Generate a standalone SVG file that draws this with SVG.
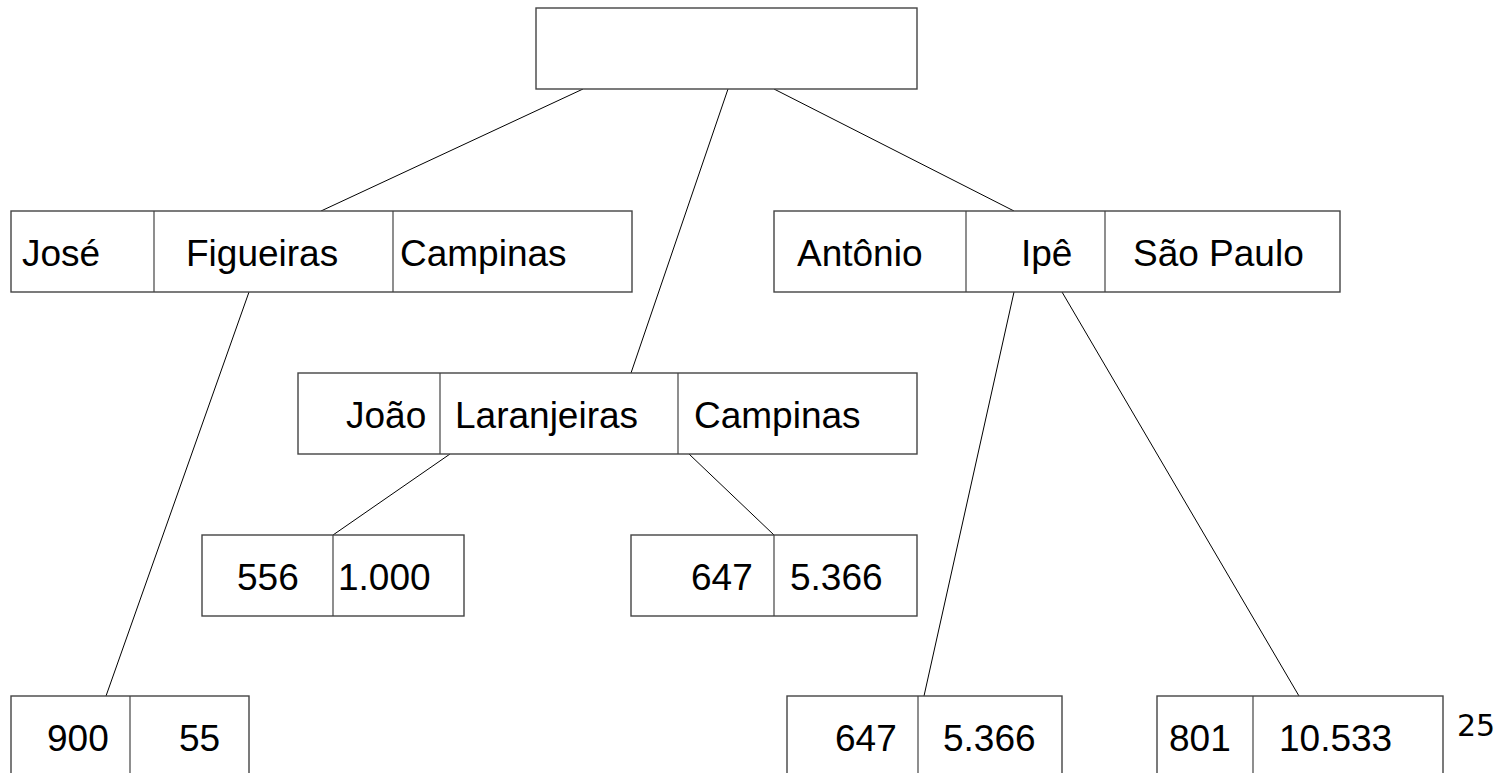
<svg xmlns="http://www.w3.org/2000/svg" width="1507" height="773" viewBox="0 0 1507 773">
<style>
.b{fill:#fff;stroke:#444;stroke-width:1.4}
.d{stroke:#444;stroke-width:1.2}
.c line{stroke:#000;stroke-width:1}
text{font-family:"Liberation Sans",Arial,sans-serif;font-size:37px;fill:#000}
.n{font-family:"DejaVu Sans",sans-serif;font-size:30px}
</style>
<rect width="1507" height="773" fill="#fff"/>
<g class="c" id="connectors">
<line x1="583" y1="89" x2="321" y2="211"/>
<line x1="728" y1="89" x2="631" y2="373"/>
<line x1="774" y1="89" x2="1014" y2="211"/>
<line x1="249" y1="292" x2="106" y2="696"/>
<line x1="450" y1="454" x2="333" y2="535"/>
<line x1="689" y1="454" x2="774" y2="535"/>
<line x1="1014" y1="292" x2="924" y2="696"/>
<line x1="1062" y1="292" x2="1299" y2="696"/>
</g>
<g id="root"><rect class="b" x="536" y="8" width="381" height="81"/></g>
<g id="jose">
<rect class="b" x="11" y="211" width="621" height="81"/>
<line class="d" x1="154" y1="211" x2="154" y2="292"/>
<line class="d" x1="393" y1="211" x2="393" y2="292"/>
<text x="22" y="266">José</text>
<text x="186" y="266">Figueiras</text>
<text x="400" y="266">Campinas</text>
</g>
<g id="antonio">
<rect class="b" x="774" y="211" width="566" height="81"/>
<line class="d" x1="966" y1="211" x2="966" y2="292"/>
<line class="d" x1="1105" y1="211" x2="1105" y2="292"/>
<text x="797" y="266">Antônio</text>
<text x="1021" y="266">Ipê</text>
<text x="1133" y="266">São Paulo</text>
</g>
<g id="joao">
<rect class="b" x="298" y="373" width="619" height="81"/>
<line class="d" x1="440" y1="373" x2="440" y2="454"/>
<line class="d" x1="678" y1="373" x2="678" y2="454"/>
<text x="346" y="428">João</text>
<text x="455" y="428">Laranjeiras</text>
<text x="694" y="428">Campinas</text>
</g>
<g id="n556">
<rect class="b" x="202" y="535" width="262" height="81"/>
<line class="d" x1="333" y1="535" x2="333" y2="616"/>
<text x="237" y="590">556</text>
<text x="338" y="590">1.000</text>
</g>
<g id="n647a">
<rect class="b" x="631" y="535" width="286" height="81"/>
<line class="d" x1="774" y1="535" x2="774" y2="616"/>
<text x="691" y="590">647</text>
<text x="790" y="590">5.366</text>
</g>
<g id="n900">
<rect class="b" x="11" y="696" width="238" height="100"/>
<line class="d" x1="130" y1="696" x2="130" y2="796"/>
<text x="47" y="751">900</text>
<text x="179" y="751">55</text>
</g>
<g id="n647b">
<rect class="b" x="787" y="696" width="275" height="100"/>
<line class="d" x1="918" y1="696" x2="918" y2="796"/>
<text x="835" y="751">647</text>
<text x="943" y="751">5.366</text>
</g>
<g id="n801">
<rect class="b" x="1157" y="696" width="286" height="100"/>
<line class="d" x1="1253" y1="696" x2="1253" y2="796"/>
<text x="1169" y="751">801</text>
<text x="1279" y="751">10.533</text>
</g>
<text class="n" x="1457" y="736">25</text>
</svg>
